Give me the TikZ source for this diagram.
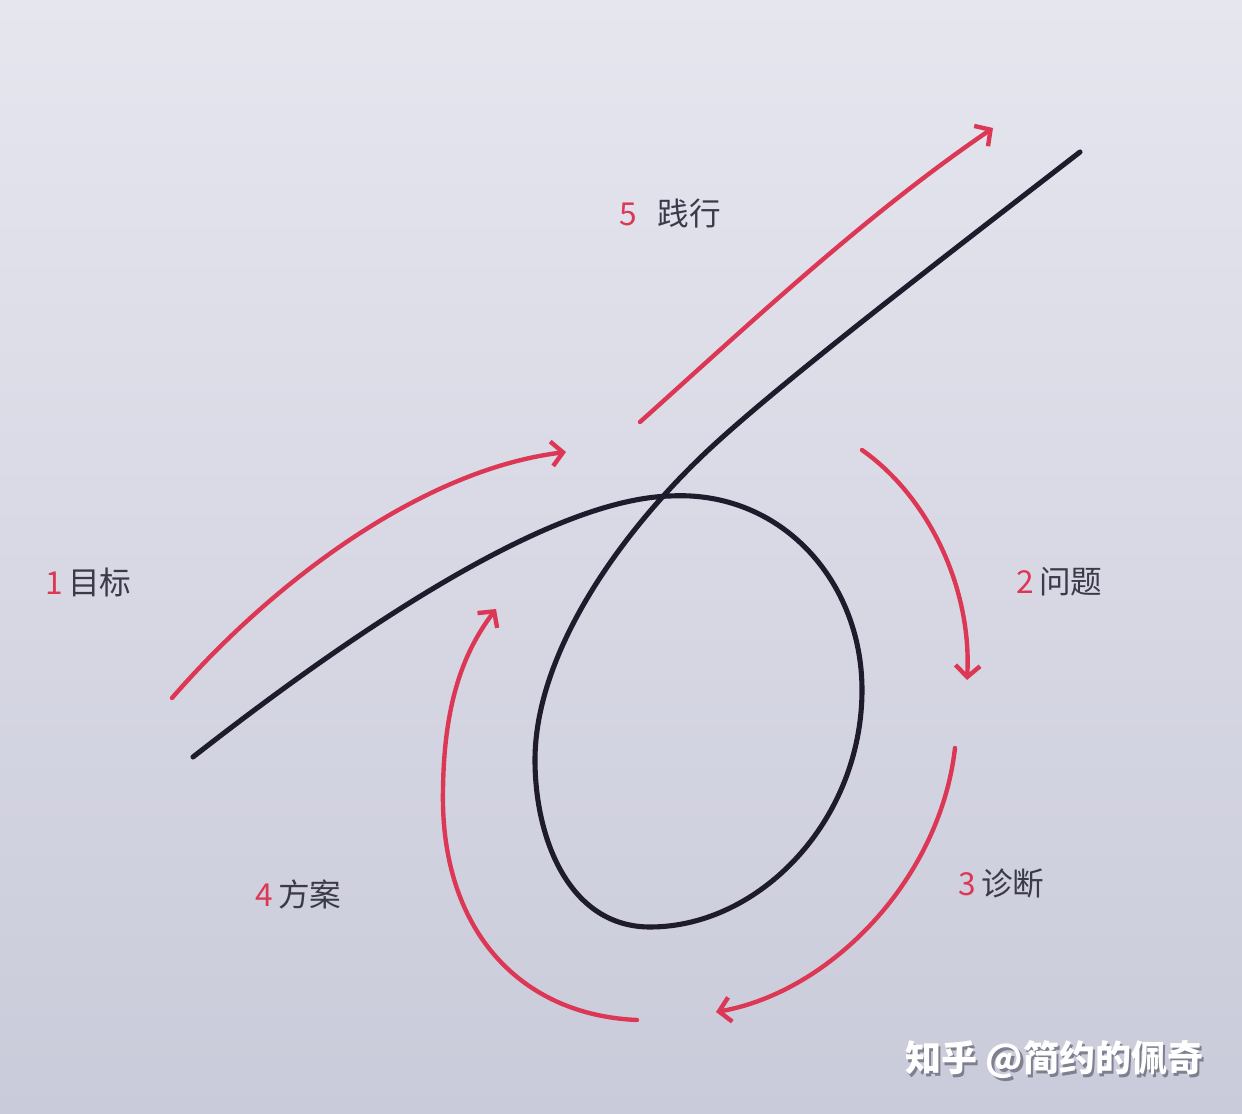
\documentclass[tikz,border=0pt]{standalone}
\usepackage{fontspec}
\setmainfont{Noto Sans CJK SC}
\newfontfamily\cjk{Noto Sans CJK SC}
\usetikzlibrary{arrows.meta}
\definecolor{bgtop}{HTML}{E6E6EF}
\definecolor{bgbot}{HTML}{CACBDA}
\definecolor{redarr}{HTML}{DC3754}
\definecolor{inkblk}{HTML}{1E1B2C}
\definecolor{labtxt}{HTML}{3A3A4A}
\definecolor{wmshadow}{HTML}{7E8090}
\begin{document}
\begin{tikzpicture}[x=0.02cm,y=-0.02cm,
  loopline/.style={inkblk, line width=2.9pt, line cap=round},
  redarrow/.style={redarr, line width=2.5pt, line cap=round,
    -{Straight Barb[length=6.5pt,width=14pt]}},
  lab/.style={font=\cjk\fontsize{18}{21}\selectfont, text=labtxt, inner sep=0pt, anchor=west},
  wm/.style={font=\cjk\bfseries\fontsize{20.5}{24}\selectfont, inner sep=0pt}]
\useasboundingbox (0,0) rectangle (1242,1114);
\shade[top color=bgtop, bottom color=bgbot] (0,0) rectangle (1242,1114);

% black loop line
\coordinate (bstart) at (193,757);
\coordinate (btop) at (670,496);
\coordinate (bright) at (862,690);
\coordinate (bbottom) at (650,927);
\coordinate (bleft) at (535,760);
\coordinate (bup) at (700,458);
\coordinate (bend) at (1080,152);
\draw[loopline] (bstart) .. controls (330,650) and (540,500) .. (btop)
  .. controls (780,490) and (862,580) .. (bright)
  .. controls (862,820) and (760,927) .. (bbottom)
  .. controls (570,927) and (535,840) .. (bleft)
  .. controls (535,660) and (610,545) .. (bup)
  .. controls (770,390) and (960,245) .. (bend);

% red arrows
\coordinate (a1s) at (172,698); \coordinate (a1e) at (566,452);
\coordinate (a5s) at (640,422); \coordinate (a5e) at (993,128);
\coordinate (a2s) at (862,450); \coordinate (a2e) at (967,680);
\coordinate (a3s) at (955,748); \coordinate (a3e) at (716,1012);
\coordinate (a4s) at (637,1020); \coordinate (a4m) at (443,790); \coordinate (a4e) at (496,609);
\draw[redarrow] (a1s) .. controls (270,585) and (420,470) .. (a1e);
\draw[redarrow] (a5s) .. controls (745,328) and (865,215) .. (a5e);
\draw[redarrow] (a2s) .. controls (930,498) and (972,590) .. (a2e);
\draw[redarrow] (a3s) .. controls (940,880) and (830,992) .. (a3e);
\draw[redarrow] (a4s) .. controls (520,1015) and (440,930) .. (a4m)
  .. controls (444,700) and (465,650) .. (a4e);

% labels
\node[lab] (l1) at (45,582) {\textcolor{redarr}{1}\hspace{3pt}目标};
\node[lab] (l5) at (619,214) {\textcolor{redarr}{5}\hspace{12pt}践行};
\node[lab] (l2) at (1016,582) {\textcolor{redarr}{2}\hspace{3pt}问题};
\node[lab] (l4) at (255,894) {\textcolor{redarr}{4}\hspace{3pt}方案};
\node[lab] (l3) at (958,884) {\textcolor{redarr}{3}\hspace{3pt}诊断};

% watermark (white text with a soft shadow)
\node[wm, anchor=west] (wmk) at (905,1061)
  {\makebox[0pt][l]{\hspace{1.4pt}\raisebox{-1.4pt}{\textcolor{wmshadow}{知乎 @简约的佩奇}}}\textcolor{white}{知乎 @简约的佩奇}};
\end{tikzpicture}
\end{document}
